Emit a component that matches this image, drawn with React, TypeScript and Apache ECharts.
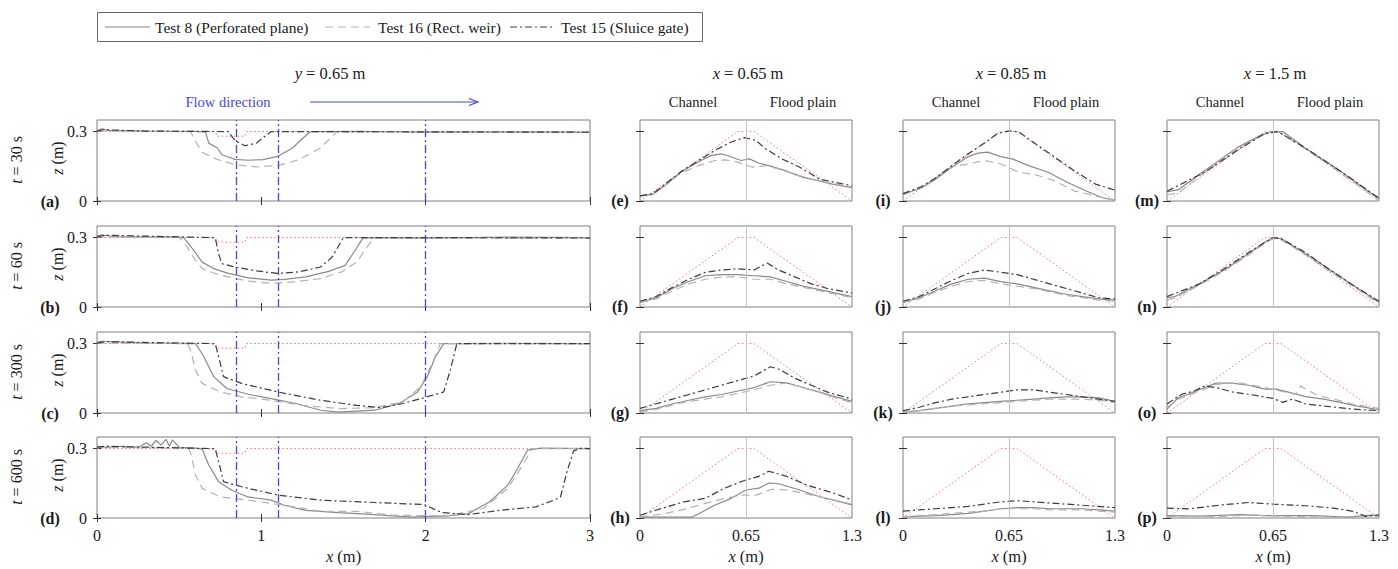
import React, { useEffect, useRef } from 'react';
import * as echarts from 'echarts';

// ---------- data ----------
const rowTimes = ['30', '60', '300', '600'];
const leftLabels = ['(a)', '(b)', '(c)', '(d)'];
const rightLabels = [['(e)', '(f)', '(g)', '(h)'], ['(i)', '(j)', '(k)', '(l)'], ['(m)', '(n)', '(o)', '(p)']];
const colTitles = ['0.65', '0.85', '1.5'];
const legendNames = ['Test 8 (Perforated plane)', 'Test 16 (Rect. weir)', 'Test 15 (Sluice gate)'];
const flowLines = [0.85, 1.1, 2.0];
const centerLine = [0.65];
const leftXTicks = [0, 1, 2, 3];
const rightXTicks = [0, 0.65, 1.3];
const yTicks = [0, 0.3];

const baseLeft = [[0, 0.3], [0.72, 0.3], [0.73, 0.28], [0.9, 0.28], [0.91, 0.3], [3, 0.3]];
const baseRight = [[0, 0], [0.6, 0.3], [0.7, 0.3], [1.3, 0]];

// y = 0.65 m profiles
const a8 = [[0, 0.303], [0.03, 0.312], [0.08, 0.304], [0.3, 0.302], [0.6, 0.301], [0.66, 0.298], [0.68, 0.25], [0.73, 0.23], [0.76, 0.2], [0.84, 0.18], [0.92, 0.176], [1.01, 0.179], [1.1, 0.193], [1.19, 0.229], [1.25, 0.27], [1.3, 0.3], [1.6, 0.301], [2, 0.297], [2.5, 0.299], [3, 0.297]];
const a16 = [[0, 0.302], [0.3, 0.301], [0.57, 0.3], [0.59, 0.27], [0.64, 0.21], [0.73, 0.18], [0.84, 0.157], [0.97, 0.147], [1.1, 0.153], [1.23, 0.179], [1.36, 0.229], [1.46, 0.3], [2, 0.298], [3, 0.298]];
const a15 = [[0, 0.303], [0.04, 0.308], [0.3, 0.302], [0.8, 0.3], [0.83, 0.27], [0.85, 0.257], [0.9, 0.239], [0.97, 0.25], [1.02, 0.279], [1.06, 0.3], [2, 0.299], [3, 0.297]];

const b8 = [[0, 0.305], [0.03, 0.312], [0.1, 0.304], [0.5, 0.302], [0.53, 0.298], [0.59, 0.244], [0.64, 0.194], [0.71, 0.166], [0.8, 0.145], [0.92, 0.126], [1.06, 0.116], [1.14, 0.119], [1.27, 0.13], [1.41, 0.154], [1.51, 0.18], [1.57, 0.244], [1.62, 0.3], [2, 0.298], [2.5, 0.302], [3, 0.3]];
const b16 = [[0, 0.303], [0.5, 0.301], [0.55, 0.258], [0.6, 0.2], [0.64, 0.166], [0.75, 0.137], [0.92, 0.112], [1.06, 0.102], [1.21, 0.109], [1.36, 0.123], [1.49, 0.152], [1.58, 0.194], [1.67, 0.286], [1.69, 0.3], [2.2, 0.297], [3, 0.298]];
const b15 = [[0, 0.304], [0.05, 0.31], [0.7, 0.3], [0.72, 0.298], [0.74, 0.23], [0.76, 0.187], [0.84, 0.173], [0.97, 0.156], [1.1, 0.145], [1.23, 0.152], [1.36, 0.173], [1.43, 0.215], [1.5, 0.3], [2, 0.3], [3, 0.298]];

const c8 = [[0, 0.304], [0.03, 0.31], [0.3, 0.302], [0.6, 0.3], [0.65, 0.244], [0.71, 0.157], [0.79, 0.106], [0.92, 0.081], [1.06, 0.062], [1.21, 0.041], [1.36, 0.012], [1.47, 0.004], [1.69, 0.012], [1.84, 0.041], [1.95, 0.091], [2.01, 0.157], [2.06, 0.244], [2.11, 0.3], [2.5, 0.301], [3, 0.3]];
const c16 = [[0, 0.302], [0.55, 0.3], [0.57, 0.27], [0.6, 0.186], [0.64, 0.128], [0.75, 0.091], [0.88, 0.07], [1.06, 0.055], [1.25, 0.033], [1.47, 0.019], [1.69, 0.023], [1.86, 0.048], [1.97, 0.113], [2.04, 0.215], [2.09, 0.3], [3, 0.299]];
const c15 = [[0, 0.303], [0.05, 0.308], [0.7, 0.3], [0.72, 0.298], [0.74, 0.244], [0.77, 0.157], [0.88, 0.128], [1.1, 0.091], [1.36, 0.055], [1.58, 0.033], [1.73, 0.023], [1.86, 0.041], [1.97, 0.062], [2.11, 0.091], [2.15, 0.186], [2.19, 0.3], [3, 0.3]];

const d8 = [[0, 0.31], [0.05, 0.305], [0.15, 0.31], [0.25, 0.305], [0.3, 0.325], [0.33, 0.31], [0.36, 0.335], [0.39, 0.315], [0.42, 0.34], [0.44, 0.31], [0.46, 0.338], [0.5, 0.305], [0.6, 0.302], [0.64, 0.298], [0.68, 0.229], [0.74, 0.157], [0.82, 0.12], [0.92, 0.091], [1.06, 0.077], [1.14, 0.055], [1.27, 0.033], [1.47, 0.023], [1.69, 0.015], [1.91, 0.004], [2.13, 0.009], [2.26, 0.019], [2.39, 0.07], [2.5, 0.142], [2.56, 0.215], [2.62, 0.293], [2.7, 0.302], [3, 0.3]];
const d16 = [[0, 0.305], [0.5, 0.302], [0.56, 0.298], [0.57, 0.28], [0.6, 0.186], [0.64, 0.128], [0.75, 0.091], [0.92, 0.077], [1.14, 0.055], [1.36, 0.029], [1.58, 0.029], [1.8, 0.012], [2.13, 0.009], [2.35, 0.041], [2.5, 0.128], [2.59, 0.229], [2.65, 0.3], [3, 0.3]];
const d15 = [[0, 0.306], [0.05, 0.31], [0.7, 0.3], [0.72, 0.298], [0.74, 0.244], [0.77, 0.157], [0.88, 0.135], [1.1, 0.099], [1.36, 0.077], [1.69, 0.067], [1.99, 0.058], [2.1, 0.023], [2.26, 0.015], [2.45, 0.033], [2.67, 0.048], [2.78, 0.077], [2.82, 0.09], [2.86, 0.2], [2.9, 0.29], [2.95, 0.302], [3, 0.3]];

// x = 0.65 m cross sections
const e8 = [[0, 0.022], [0.08, 0.029], [0.15, 0.066], [0.25, 0.124], [0.36, 0.171], [0.44, 0.197], [0.5, 0.204], [0.56, 0.19], [0.62, 0.175], [0.67, 0.182], [0.73, 0.163], [0.79, 0.153], [0.89, 0.131], [1.0, 0.102], [1.1, 0.087], [1.18, 0.073], [1.3, 0.058]];
const e16 = [[0, 0.022], [0.08, 0.03], [0.15, 0.066], [0.25, 0.12], [0.36, 0.153], [0.46, 0.175], [0.52, 0.178], [0.6, 0.168], [0.69, 0.146], [0.77, 0.153], [0.85, 0.139], [0.98, 0.109], [1.1, 0.087], [1.3, 0.061]];
const e15 = [[0, 0.022], [0.08, 0.032], [0.15, 0.07], [0.25, 0.126], [0.36, 0.175], [0.46, 0.219], [0.56, 0.255], [0.64, 0.274], [0.71, 0.262], [0.77, 0.226], [0.87, 0.182], [0.98, 0.146], [1.1, 0.095], [1.2, 0.08], [1.3, 0.066]];

const f8 = [[0, 0.02], [0.1, 0.04], [0.2, 0.08], [0.3, 0.11], [0.4, 0.135], [0.5, 0.14], [0.6, 0.14], [0.7, 0.135], [0.8, 0.13], [0.9, 0.11], [1.0, 0.09], [1.1, 0.075], [1.2, 0.06], [1.3, 0.045]];
const f16 = [[0, 0.02], [0.1, 0.035], [0.2, 0.07], [0.3, 0.1], [0.4, 0.12], [0.5, 0.13], [0.6, 0.13], [0.7, 0.12], [0.8, 0.12], [0.9, 0.1], [1.0, 0.085], [1.1, 0.07], [1.2, 0.055], [1.3, 0.04]];
const f15 = [[0, 0.025], [0.1, 0.045], [0.2, 0.085], [0.3, 0.12], [0.4, 0.15], [0.5, 0.16], [0.6, 0.165], [0.7, 0.16], [0.78, 0.19], [0.85, 0.16], [0.95, 0.13], [1.05, 0.1], [1.15, 0.08], [1.3, 0.06]];

const g8 = [[0, 0.01], [0.1, 0.02], [0.2, 0.04], [0.3, 0.055], [0.4, 0.07], [0.5, 0.08], [0.6, 0.095], [0.7, 0.11], [0.8, 0.135], [0.9, 0.13], [1.0, 0.11], [1.1, 0.09], [1.2, 0.07], [1.3, 0.05]];
const g16 = [[0, 0.005], [0.1, 0.015], [0.2, 0.035], [0.3, 0.05], [0.4, 0.06], [0.5, 0.07], [0.6, 0.085], [0.7, 0.1], [0.8, 0.12], [0.9, 0.13], [1.0, 0.11], [1.1, 0.09], [1.2, 0.065], [1.3, 0.045]];
const g15 = [[0, 0.02], [0.1, 0.04], [0.2, 0.06], [0.3, 0.08], [0.4, 0.1], [0.5, 0.12], [0.6, 0.14], [0.7, 0.16], [0.8, 0.2], [0.85, 0.19], [0.95, 0.15], [1.05, 0.12], [1.15, 0.09], [1.3, 0.06]];

const h8 = [[0, 0.004], [0.15, 0.004], [0.32, 0.004], [0.38, 0.026], [0.46, 0.056], [0.56, 0.085], [0.65, 0.121], [0.73, 0.129], [0.79, 0.151], [0.85, 0.148], [0.98, 0.121], [1.1, 0.092], [1.23, 0.07], [1.3, 0.056]];
const h16 = [[0, 0.004], [0.15, 0.019], [0.27, 0.037], [0.4, 0.063], [0.52, 0.085], [0.63, 0.099], [0.71, 0.099], [0.81, 0.124], [0.9, 0.121], [1.02, 0.104], [1.19, 0.078], [1.3, 0.06]];
const h15 = [[0, 0.012], [0.15, 0.045], [0.27, 0.07], [0.4, 0.085], [0.52, 0.129], [0.65, 0.165], [0.73, 0.18], [0.79, 0.202], [0.9, 0.18], [1.02, 0.143], [1.19, 0.107], [1.3, 0.078]];

// x = 0.85 m cross sections
const i8 = [[0, 0.029], [0.11, 0.055], [0.19, 0.09], [0.3, 0.146], [0.4, 0.192], [0.46, 0.207], [0.52, 0.211], [0.6, 0.192], [0.67, 0.182], [0.77, 0.153], [0.89, 0.124], [1.01, 0.08], [1.12, 0.044], [1.22, 0.015], [1.3, 0.003]];
const i16 = [[0, 0.026], [0.11, 0.055], [0.19, 0.095], [0.3, 0.149], [0.4, 0.16], [0.5, 0.175], [0.6, 0.16], [0.71, 0.124], [0.81, 0.114], [0.93, 0.087], [1.05, 0.044], [1.18, 0.022], [1.3, 0.003]];
const i15 = [[0, 0.032], [0.11, 0.061], [0.19, 0.095], [0.3, 0.153], [0.4, 0.204], [0.5, 0.251], [0.58, 0.292], [0.65, 0.303], [0.71, 0.299], [0.81, 0.248], [0.93, 0.19], [1.05, 0.131], [1.18, 0.073], [1.3, 0.047]];

const j8 = [[0, 0.02], [0.1, 0.04], [0.2, 0.07], [0.3, 0.1], [0.4, 0.12], [0.5, 0.125], [0.6, 0.11], [0.7, 0.1], [0.8, 0.085], [0.9, 0.07], [1.0, 0.055], [1.1, 0.045], [1.2, 0.035], [1.3, 0.03]];
const j16 = [[0, 0.02], [0.1, 0.035], [0.2, 0.065], [0.3, 0.09], [0.4, 0.11], [0.5, 0.115], [0.6, 0.1], [0.7, 0.09], [0.8, 0.08], [0.9, 0.065], [1.0, 0.05], [1.1, 0.04], [1.2, 0.03], [1.3, 0.025]];
const j15 = [[0, 0.025], [0.1, 0.045], [0.2, 0.08], [0.3, 0.115], [0.4, 0.145], [0.5, 0.16], [0.6, 0.15], [0.7, 0.14], [0.8, 0.12], [0.9, 0.1], [1.0, 0.08], [1.1, 0.06], [1.2, 0.04], [1.3, 0.035]];

const k8 = [[0, 0.005], [0.1, 0.01], [0.2, 0.02], [0.3, 0.03], [0.4, 0.04], [0.5, 0.045], [0.6, 0.05], [0.7, 0.055], [0.8, 0.06], [0.9, 0.065], [1.0, 0.07], [1.1, 0.07], [1.2, 0.065], [1.3, 0.05]];
const k16 = [[0, 0.005], [0.1, 0.01], [0.2, 0.02], [0.3, 0.03], [0.4, 0.035], [0.5, 0.04], [0.6, 0.045], [0.7, 0.05], [0.8, 0.055], [0.9, 0.06], [1.0, 0.06], [1.1, 0.06], [1.2, 0.055], [1.3, 0.045]];
const k15 = [[0, 0.01], [0.1, 0.025], [0.2, 0.045], [0.3, 0.06], [0.4, 0.07], [0.5, 0.08], [0.6, 0.09], [0.7, 0.1], [0.8, 0.1], [0.9, 0.09], [1.0, 0.08], [1.1, 0.07], [1.2, 0.06], [1.3, 0.05]];

const l8 = [[0, 0.005], [0.1, 0.008], [0.2, 0.01], [0.3, 0.015], [0.4, 0.02], [0.5, 0.03], [0.6, 0.04], [0.7, 0.045], [0.8, 0.045], [0.9, 0.04], [1.0, 0.04], [1.1, 0.04], [1.2, 0.035], [1.3, 0.03]];
const l16 = [[0, 0.005], [0.1, 0.01], [0.2, 0.015], [0.3, 0.02], [0.4, 0.025], [0.5, 0.03], [0.6, 0.04], [0.7, 0.04], [0.8, 0.04], [0.9, 0.035], [1.0, 0.035], [1.1, 0.035], [1.2, 0.03], [1.3, 0.025]];
const l15 = [[0, 0.03], [0.1, 0.035], [0.2, 0.04], [0.3, 0.045], [0.4, 0.05], [0.5, 0.06], [0.6, 0.07], [0.7, 0.075], [0.8, 0.07], [0.9, 0.065], [1.0, 0.06], [1.1, 0.055], [1.2, 0.05], [1.3, 0.045]];

// x = 1.5 m cross sections
const m8 = [[0, 0.039], [0.07, 0.049], [0.23, 0.131], [0.44, 0.234], [0.58, 0.286], [0.65, 0.3], [0.71, 0.3], [0.85, 0.228], [1.06, 0.131], [1.22, 0.049], [1.3, 0.009]];
const m16 = [[0, 0.027], [0.07, 0.034], [0.23, 0.124], [0.44, 0.221], [0.6, 0.294], [0.68, 0.3], [0.85, 0.224], [1.06, 0.124], [1.3, 0.004]];
const m15 = [[0, 0.042], [0.23, 0.124], [0.44, 0.224], [0.6, 0.291], [0.68, 0.3], [0.85, 0.228], [1.06, 0.131], [1.3, 0.012]];

const n8 = [[0, 0.04], [0.05, 0.045], [0.2, 0.1], [0.35, 0.16], [0.5, 0.23], [0.6, 0.28], [0.65, 0.3], [0.7, 0.295], [0.85, 0.23], [1.0, 0.16], [1.15, 0.09], [1.3, 0.02]];
const n16 = [[0, 0.03], [0.05, 0.04], [0.2, 0.095], [0.35, 0.155], [0.5, 0.225], [0.6, 0.275], [0.65, 0.295], [0.7, 0.29], [0.85, 0.225], [1.0, 0.155], [1.15, 0.085], [1.3, 0.015]];
const n15 = [[0, 0.045], [0.2, 0.1], [0.35, 0.165], [0.5, 0.235], [0.6, 0.28], [0.65, 0.3], [0.7, 0.295], [0.85, 0.235], [1.0, 0.16], [1.15, 0.09], [1.3, 0.025]];

const o8 = [[0, 0.017], [0.07, 0.067], [0.13, 0.081], [0.23, 0.11], [0.3, 0.129], [0.4, 0.129], [0.5, 0.12], [0.6, 0.103], [0.67, 0.103], [0.75, 0.089], [0.85, 0.071], [0.96, 0.06], [1.06, 0.046], [1.16, 0.031], [1.3, 0.014]];
const o16 = [[0, 0.024], [0.07, 0.06], [0.23, 0.103], [0.3, 0.124], [0.44, 0.131], [0.6, 0.11], [0.73, 0.089], [0.79, 0.081], [0.82, 0.117], [0.85, 0.103], [0.93, 0.074], [1.02, 0.06], [1.14, 0.039], [1.3, 0.02]];
const o15 = [[0, 0.039], [0.09, 0.081], [0.17, 0.096], [0.23, 0.117], [0.3, 0.11], [0.4, 0.091], [0.5, 0.081], [0.65, 0.063], [0.71, 0.046], [0.77, 0.06], [0.85, 0.039], [0.98, 0.029], [1.14, 0.017], [1.3, 0.01]];

const p8 = [[0, 0.01], [0.2, 0.008], [0.45, 0.015], [0.6, 0.01], [0.9, 0.01], [1.1, 0.004], [1.25, 0.012], [1.3, 0.01]];
const p16 = [[0, 0.006], [0.3, 0.006], [0.5, 0.012], [0.8, 0.006], [1.1, 0.003], [1.3, 0.006]];
const p15 = [[0, 0.043], [0.13, 0.039], [0.34, 0.057], [0.5, 0.067], [0.65, 0.06], [0.85, 0.053], [1.02, 0.043], [1.14, 0.029], [1.22, 0.007], [1.3, 0.014]];

const leftPanels = [[a8, a16, a15], [b8, b16, b15], [c8, c16, c15], [d8, d16, d15]];
const rightPanels = [
  [[e8, e16, e15], [f8, f16, f15], [g8, g16, g15], [h8, h16, h15]],
  [[i8, i16, i15], [j8, j16, j15], [k8, k16, k15], [l8, l16, l15]],
  [[m8, m16, m15], [n8, n16, n15], [o8, o16, o15], [p8, p16, p15]],
];

// ---------- styles ----------
const FONT = '"Liberation Serif", "Times New Roman", serif';
const TXT = '#1a1a1a';
const testStyles = [
  { color: '#8a8a8a', type: 'solid' as any, width: 1.2 },
  { color: '#b3b3b3', type: [8, 5] as any, width: 1.2 },
  { color: '#3c3c3c', type: [7, 3, 2, 3] as any, width: 1.2 },
];
const RED = '#ff6f6f';
const BLUE = '#4646e6';

const rowTops = [120, 226, 332, 437];
const rowH = 81;
const leftX = 97, leftW = 493;
const rightXs = [640, 903, 1167];
const rightW = 212;

function buildOption() {
  const grid: any[] = [];
  const xAxis: any[] = [];
  const yAxis: any[] = [];
  const series: any[] = [];
  const graphic: any[] = [];

  const addPanel = (isLeft: boolean, row: number, left: number, width: number, tests: number[][][]) => {
    const gi = grid.length;
    grid.push({ left, top: rowTops[row], width, height: rowH, show: true, borderColor: '#808080', borderWidth: 1, backgroundColor: 'transparent' });
    const xmax = isLeft ? 3 : 1.3;
    const xInt = isLeft ? 1 : 0.65;
    const bottom = row === 3;
    const xTicks = isLeft ? leftXTicks : rightXTicks;
    xAxis.push({
      type: 'value', gridIndex: gi, min: 0, max: xmax, interval: xInt, position: 'bottom',
      axisLine: { show: false }, splitLine: { show: false },
      axisTick: { show: isLeft, inside: true, length: 4, lineStyle: { color: '#333' }, customValues: xTicks },
      axisLabel: {
        show: bottom, margin: 9, fontFamily: FONT, fontSize: 16, color: TXT, customValues: xTicks,
        formatter: (v: number) => String(+v.toFixed(2)),
      },
      name: bottom ? '{i|x} (m)' : '', nameLocation: 'middle', nameGap: 30,
      nameTextStyle: { fontFamily: FONT, fontSize: 16.5, color: TXT, rich: { i: { fontFamily: FONT, fontSize: 16.5, fontStyle: 'italic', color: TXT } } },
    });
    xAxis.push({
      type: 'value', gridIndex: gi, min: 0, max: xmax, interval: xInt, position: 'top',
      axisLine: { show: false }, splitLine: { show: false }, axisLabel: { show: false },
      axisTick: { show: isLeft, inside: true, length: 4, lineStyle: { color: '#333' }, customValues: xTicks },
    });
    yAxis.push({
      type: 'value', gridIndex: gi, min: 0, max: 0.35, interval: 0.3, position: 'left',
      axisLine: { show: false }, splitLine: { show: false },
      axisTick: { show: true, inside: true, length: 4, lineStyle: { color: '#333' }, customValues: yTicks },
      axisLabel: {
        show: isLeft, margin: 10, fontFamily: FONT, fontSize: 16, color: TXT, customValues: yTicks,
        formatter: (v: number) => String(+v.toFixed(2)),
      },
    });
    yAxis.push({
      type: 'value', gridIndex: gi, min: 0, max: 0.35, interval: 0.3, position: 'right',
      axisLine: { show: false }, splitLine: { show: false }, axisLabel: { show: false },
      axisTick: { show: true, inside: true, length: 4, lineStyle: { color: '#333' }, customValues: yTicks },
    });
    const xi = gi * 2, yi = gi * 2;
    series.push({
      type: 'line', xAxisIndex: xi, yAxisIndex: yi, data: isLeft ? baseLeft : baseRight,
      symbol: 'none', silent: true, z: 1,
      lineStyle: { color: RED, width: 1, type: [1.5, 2.5] },
      markLine: {
        silent: true, symbol: ['none', 'none'], label: { show: false },
        lineStyle: isLeft ? { color: BLUE, width: 1.3, type: [8, 3, 2, 3] } : { color: '#c4c4c4', width: 1, type: 'solid' },
        data: (isLeft ? flowLines : centerLine).map((v) => ({ xAxis: v })),
      },
    });
    tests.forEach((d, k) => {
      series.push({
        type: 'line', name: legendNames[k], xAxisIndex: xi, yAxisIndex: yi, data: d,
        symbol: 'none', silent: true, z: 3 + (k === 2 ? 1 : 0),
        lineStyle: { ...testStyles[k] },
      });
    });
  };

  for (let r = 0; r < 4; r++) addPanel(true, r, leftX, leftW, leftPanels[r]);
  for (let c = 0; c < 3; c++) for (let r = 0; r < 4; r++) addPanel(false, r, rightXs[c], rightW, rightPanels[c][r]);

  const txt = (x: number, y: number, text: string, opts: any = {}) => {
    const size = opts.size || 15;
    const weight = opts.weight || 'normal';
    const color = opts.color || TXT;
    return {
      type: 'text', x, y, rotation: opts.rotation || 0, silent: true,
      style: {
        text, fill: color,
        font: `${weight} ${size}px ${FONT}`,
        fontFamily: FONT, fontSize: size, fontWeight: weight,
        align: opts.align || 'center', verticalAlign: 'middle',
        textAlign: opts.align || 'center', textVerticalAlign: 'middle',
        rich: {
          i: { fontStyle: 'italic', fontWeight: weight, fontFamily: FONT, fontSize: size, fill: color },
          n: { fontWeight: weight, fontFamily: FONT, fontSize: size, fill: color },
        },
      },
    };
  };

  // legend
  graphic.push({ type: 'rect', silent: true, shape: { x: 97.5, y: 12.5, width: 605, height: 29 }, style: { fill: '#fff', stroke: '#666', lineWidth: 1 } });
  const legX = [[105, 150, 155], [325, 370, 378], [510, 555, 561]];
  legX.forEach(([x1, x2, tx], k) => {
    graphic.push({ type: 'line', silent: true, shape: { x1, y1: 27, x2, y2: 27 }, style: { stroke: testStyles[k].color, lineWidth: 1.2, lineDash: Array.isArray(testStyles[k].type) ? testStyles[k].type : null } });
    graphic.push(txt(tx, 27, '{n|' + legendNames[k] + '}', { align: 'left', size: 15.5 }));
  });

  // titles
  graphic.push(txt(330, 73, '{i|y}{n| = 0.65 m}', { size: 16.5 }));
  colTitles.forEach((t, c) => {
    const cx = rightXs[c] + rightW / 2;
    graphic.push(txt(cx + 2, 73, '{i|x}{n| = ' + t + ' m}', { size: 16.5 }));
    graphic.push(txt(cx - 53, 102, '{n|Channel}', { size: 14.5 }));
    graphic.push(txt(cx + 57, 102, '{n|Flood plain}', { size: 14.5 }));
  });
  graphic.push(txt(228, 102, '{n|Flow direction}', { size: 14.5, color: BLUE }));
  graphic.push({ type: 'line', silent: true, shape: { x1: 310, y1: 102, x2: 477, y2: 102 }, style: { stroke: BLUE, lineWidth: 1.2 } });
  graphic.push({ type: 'polyline', silent: true, shape: { points: [[469, 98.5], [478, 102], [469, 105.5]] }, style: { stroke: BLUE, lineWidth: 1.2, fill: null } });

  // row labels
  rowTimes.forEach((t, r) => {
    const top = rowTops[r];
    graphic.push(txt(16, top + 40, '{i|t}{n| = ' + t + ' s}', { size: 16, rotation: Math.PI / 2 }));
    graphic.push(txt(57, top + 38, '{i|z}{n| (m)}', { size: 16, rotation: Math.PI / 2 }));
    graphic.push(txt(50, top + rowH, '{n|' + leftLabels[r] + '}', { size: 16, weight: 'bold' }));
    rightLabels.forEach((labs, c) => {
      graphic.push(txt(rightXs[c] - 20, top + rowH - 1, '{n|' + labs[r] + '}', { size: 16, weight: 'bold' }));
    });
  });

  return { animation: false, backgroundColor: '#fff', grid, xAxis, yAxis, series, graphic };
}

export default function App() {
  const ref = useRef<HTMLDivElement>(null);
  useEffect(() => {
    const chart = echarts.init(ref.current!, null, { renderer: 'svg' });
    chart.setOption(buildOption() as any);
    return () => chart.dispose();
  }, []);
  return <div ref={ref} style={{ position: 'fixed', left: 0, top: 0, width: 1398, height: 569, background: '#fff' }} />;
}
